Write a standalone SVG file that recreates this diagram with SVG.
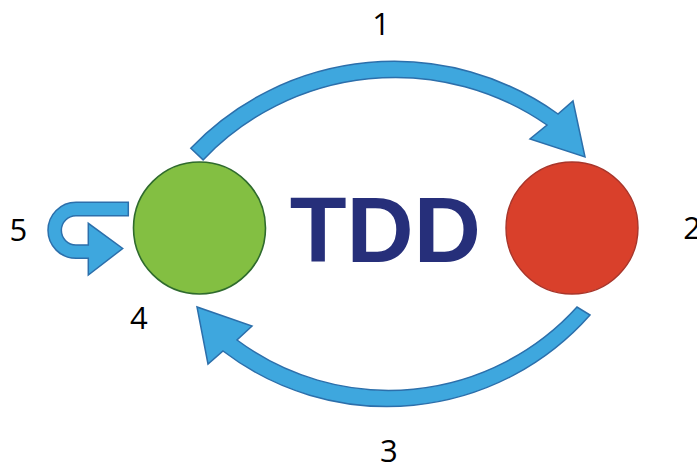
<svg xmlns="http://www.w3.org/2000/svg" width="697" height="464" viewBox="0 0 697 464">
<style>
.arrow{fill:#3ea7de;stroke:#2c6fab;stroke-width:1.5;stroke-linejoin:miter}
.num{font-family:"Open Sans","Liberation Sans",sans-serif;font-size:31px;fill:#000;text-anchor:middle}
</style>
<rect width="697" height="464" fill="#fff"/>
<g id="connectors">
<path id="arrow1" class="arrow" d="M190.8,148.2 A281.5 281.5 0 0 1 558,114 L573,101 L585,157 L530,139 L547,125 A265.5 265.5 0 0 0 203.1,159.9 Z"/>
<path id="arrow3" class="arrow" d="M590,315 A270.5 270.5 0 0 1 223,351 L208,364 L197,307 L252,326 L237,340 A254 254 0 0 0 577,307 Z"/>
<path id="arrow5" class="arrow" d="M128.3,202.3 L76,202.3 A28 28 0 0 0 76,258.3 L88.3,258.3 L88.3,275 L122.7,248.5 L88.3,223.3 L88.3,245 L76,245 A14.65 14.65 0 0 1 76,215.7 L128.3,215.7 Z"/>
</g>
<g id="green">
<circle cx="199.5" cy="228" r="66" fill="#83bf42" stroke="#2f6b2d" stroke-width="1.6"/>
</g>
<g id="red">
<circle cx="572" cy="228" r="66" fill="#d9402b" stroke="#a8352a" stroke-width="1.4"/>
</g>
<g id="title">
<text x="289.8" y="261.7" font-family="Liberation Sans, Arial, sans-serif" font-weight="bold" font-size="93" fill="#262f7a">TDD</text>
</g>
<g id="labels">
<text class="num" x="381" y="35">1</text>
<text class="num" x="692" y="239.3">2</text>
<text class="num" x="388.8" y="462.3">3</text>
<text class="num" x="138.8" y="329">4</text>
<text class="num" x="18.3" y="240.7">5</text>
</g>
</svg>
